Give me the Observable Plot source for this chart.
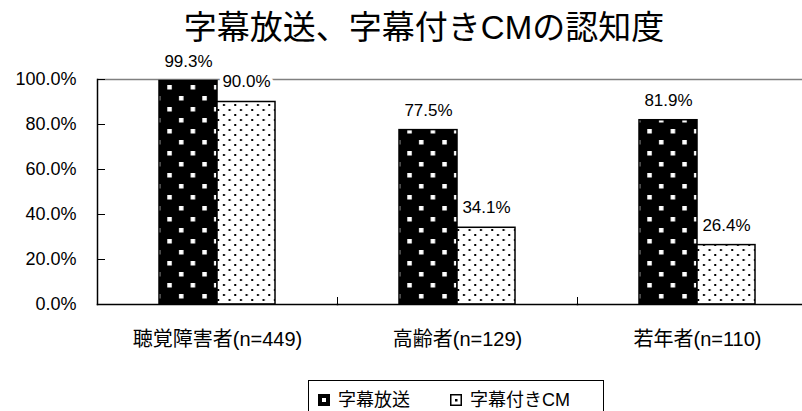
<!DOCTYPE html>
<html>
<head>
<meta charset="utf-8">
<script src="https://cdn.jsdelivr.net/npm/d3@7"></script>
<script src="https://cdn.jsdelivr.net/npm/@observablehq/plot@0.6"></script>
<style>
  html, body { margin: 0; padding: 0; background: #fff; }
  body { width: 802px; height: 411px; overflow: hidden; position: relative;
         font-family: "Liberation Sans", "Noto Sans CJK JP", sans-serif; color: #000; }
  #title { position: absolute; left: 24px; top: 9px; width: 800px; text-align: center;
           font-size: 33px; line-height: 38px; white-space: nowrap; }
  #chart { position: absolute; left: 0; top: 38px; width: 802px; height: 321px; overflow: hidden; }
  #chart svg { max-width: none !important; height: 321px !important; }
  #legend { position: absolute; left: 308px; top: 380px; width: 296px; height: 40px;
            border: 1px solid #000; box-sizing: border-box; font-size: 18px; }
  .item { position: absolute; top: 9px; display: flex; align-items: center; height: 20px; line-height: 20px; white-space: nowrap; }
  .item svg { margin-right: 8px; }
</style>
</head>
<body>
<div id="title">字幕放送、字幕付きCMの認知度</div>
<div id="chart"></div>
<div id="legend"></div>
<script>
const categories = ["聴覚障害者(n=449)", "高齢者(n=129)", "若年者(n=110)"];
const series = ["字幕放送", "字幕付きCM"];
const captionValues = [0.993, 0.775, 0.819];
const cmValues = [0.900, 0.341, 0.264];
const yTicks = [0, 0.2, 0.4, 0.6, 0.8, 1.0];

const data = categories.flatMap((c, i) => [
  {category: c, series: series[0], value: captionValues[i]},
  {category: c, series: series[1], value: cmValues[i]}
]);

const W = 820, ML = 97, MR = 3;
const facetW = (W - ML - MR) / categories.length;
const fmt = d3.format(".1%");

const chart = Plot.plot({
  width: W,
  height: 321,
  marginLeft: ML,
  marginRight: MR,
  marginTop: 41,
  marginBottom: 55,
  style: {fontFamily: '"Liberation Sans","Noto Sans CJK JP",sans-serif', fontSize: "18px", background: "transparent", color: "#000"},
  fx: {domain: categories, padding: 0, label: null},
  x: {domain: series, paddingInner: 0, paddingOuter: 1.034, axis: null},
  y: {domain: [0, 1]},
  color: {domain: series, range: ["url(#pCaption)", "url(#pCM)"]},
  marks: [
    Plot.ruleY([1], {stroke: "#808080", strokeWidth: 1.5}),
    Plot.barY(data, {fx: "category", x: "series", y: "value", fill: "series", stroke: "#000", strokeWidth: 1.5}),
    Plot.frame({anchor: "bottom", stroke: "#000", strokeWidth: 1.5}),
    Plot.frame({anchor: "left", facetAnchor: "left", stroke: "#000", strokeWidth: 1.5}),
    Plot.frame({anchor: "left", insetTop: 218, stroke: "#000", strokeWidth: 1}),
    Plot.tickY(yTicks, {y: d => d, insetRight: facetW - 8, facetAnchor: "left", stroke: "#000", strokeWidth: 1}),
    Plot.axisY({ticks: yTicks, tickSize: 0, tickPadding: 21, tickFormat: fmt, fontSize: 18, label: null}),
    Plot.axisFx({anchor: "bottom", tickSize: 0, tickPadding: 27, fontSize: 20, label: null}),
    Plot.text(data, {fx: "category", x: "series", y: "value", text: d => fmt(d.value), dy: -20,
                     fontSize: 17, fill: "#000", stroke: "#fff", strokeWidth: 7, paintOrder: "stroke"})
  ]
});

// patterns
const defs = d3.select(chart).insert("defs", ":first-child");
const p1 = defs.append("pattern").attr("id", "pCaption").attr("patternUnits", "userSpaceOnUse")
  .attr("width", 23.33).attr("height", 22);
p1.append("rect").attr("width", 23.33).attr("height", 22).attr("fill", "#000");
p1.append("rect").attr("x", 4).attr("y", 3).attr("width", 4.5).attr("height", 4.5).attr("fill", "#fff");
p1.append("rect").attr("x", 15.67).attr("y", 14).attr("width", 4.5).attr("height", 4.5).attr("fill", "#fff");
const p2 = defs.append("pattern").attr("id", "pCM").attr("patternUnits", "userSpaceOnUse")
  .attr("width", 11.33).attr("height", 10);
p2.append("rect").attr("width", 11.33).attr("height", 10).attr("fill", "#fff");
p2.append("rect").attr("x", 2).attr("y", 1).attr("width", 2).attr("height", 2).attr("fill", "#000");
p2.append("rect").attr("x", 7.67).attr("y", 6).attr("width", 2).attr("height", 2).attr("fill", "#000");

document.getElementById("chart").appendChild(chart);

// legend
const legend = document.getElementById("legend");
const sw1 = '<svg width="12" height="12"><rect x="0" y="0" width="12" height="12" fill="#000"/><rect x="4" y="4" width="4" height="4" fill="#fff"/></svg>';
const sw2 = '<svg width="12" height="12"><rect x="0.75" y="0.75" width="10.5" height="10.5" fill="#fff" stroke="#000" stroke-width="1.5"/><rect x="5" y="5" width="2.5" height="2.5" fill="#000"/></svg>';
legend.innerHTML =
  `<div class="item" style="left:9px">${sw1}<span>${series[0]}</span></div>` +
  `<div class="item" style="left:141px">${sw2}<span>${series[1]}</span></div>`;
</script>
</body>
</html>
